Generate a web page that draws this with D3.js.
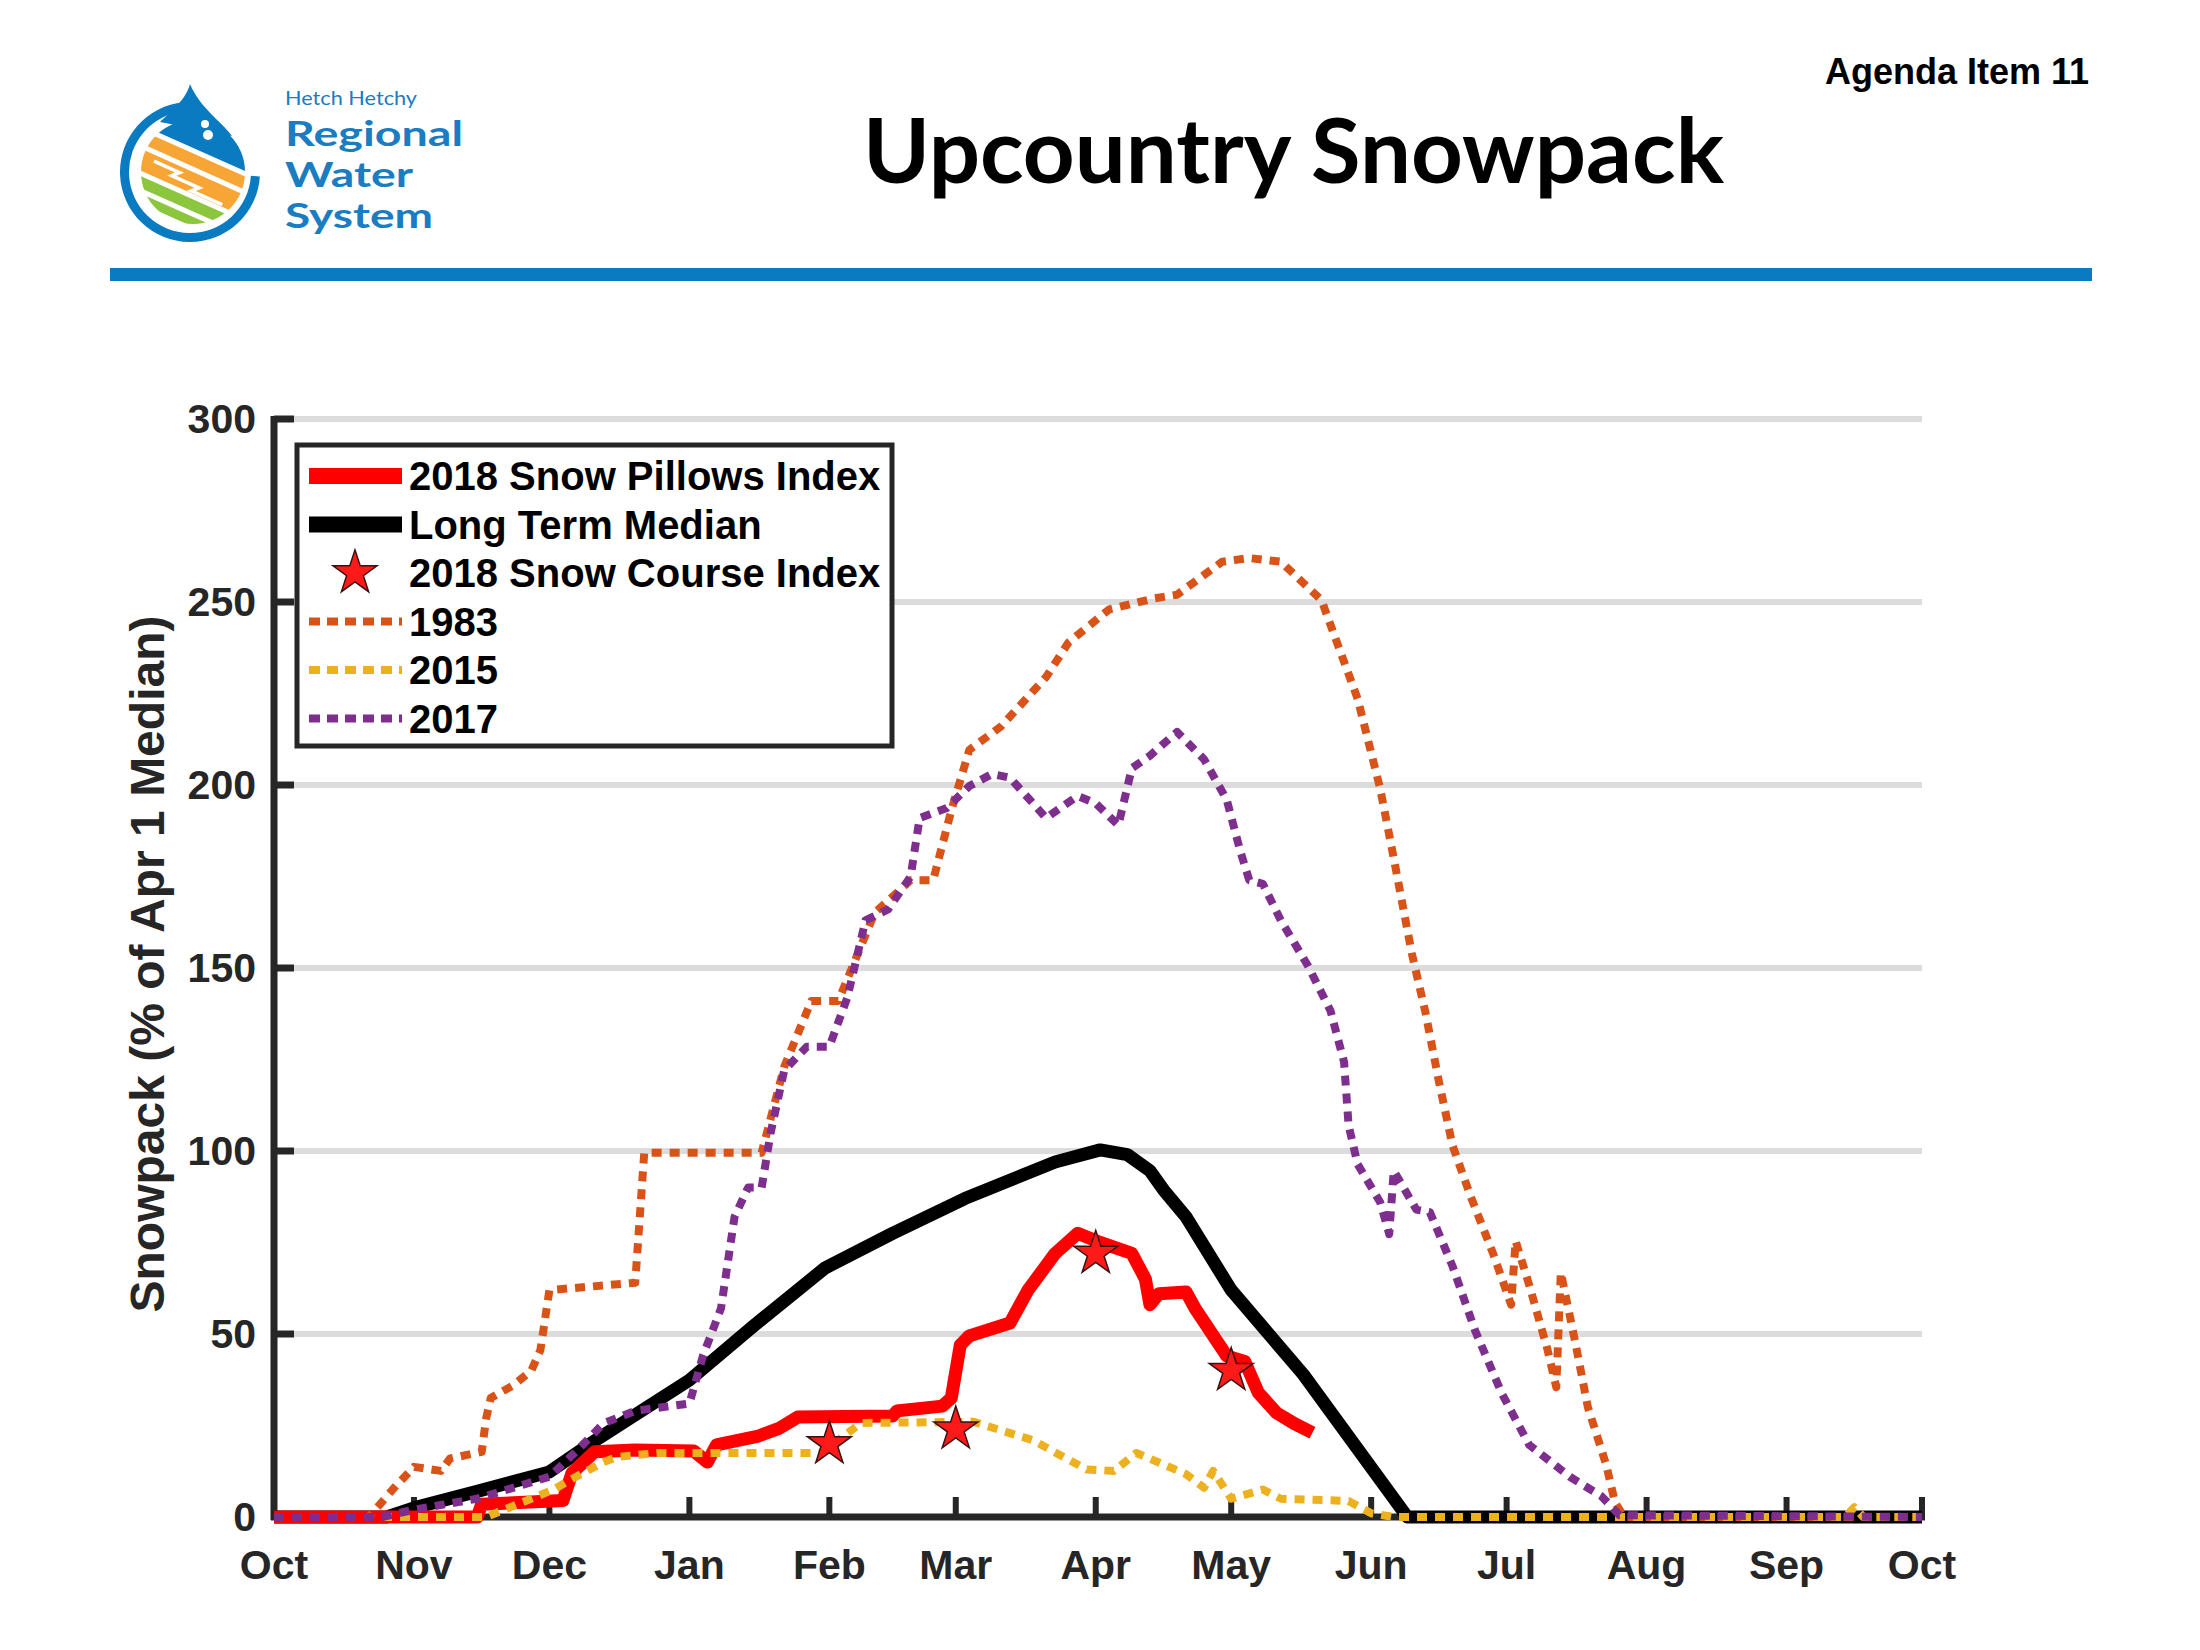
<html>
<head>
<style>
  body { margin: 0; background: #fff; }
  svg { display: block; }
</style>
<script src="https://d3js.org/d3.v7.min.js"></script>
</head>
<body>
<svg id="chart"></svg>
<script type="text/javascript">

// x axis month ticks (water year Oct 2017 - Oct 2018)
let monthTicks = ["2017-10-01","2017-11-01","2017-12-01","2018-01-01","2018-02-01","2018-03-01",
                  "2018-04-01","2018-05-01","2018-06-01","2018-07-01","2018-08-01","2018-09-01","2018-10-01"]
let monthLabels = ["Oct","Nov","Dec","Jan","Feb","Mar","Apr","May","Jun","Jul","Aug","Sep","Oct"]
let yTicks = [0, 50, 100, 150, 200, 250, 300]

// 2018 snow pillows index (red)
let pillows2018 = [
  ["2017-10-01",0],["2017-11-15",0],["2017-11-16",3.5],["2017-12-04",4.5],["2017-12-06",12],
  ["2017-12-11",17.8],["2017-12-20",18.3],["2018-01-02",18],["2018-01-05",15],["2018-01-07",19.7],
  ["2018-01-16",22],["2018-01-21",24.3],["2018-01-25",27.3],["2018-02-15",27.6],["2018-02-16",29],
  ["2018-02-26",30.3],["2018-02-28",32.5],["2018-03-02",47],["2018-03-04",49.5],["2018-03-13",53],
  ["2018-03-17",62],["2018-03-23",72],["2018-03-28",77.5],["2018-04-02",75],["2018-04-09",72],
  ["2018-04-12",65],["2018-04-13",58],["2018-04-15",61],["2018-04-21",61.5],["2018-04-23",57],
  ["2018-04-30",44],["2018-05-04",42.5],["2018-05-07",34],["2018-05-11",28.5],["2018-05-15",25.5],
  ["2018-05-19",23]
]

// long term median (black)
let median = [
  ["2017-10-01",0],["2017-10-26",0],["2017-11-01",2.5],["2017-11-15",7],["2017-12-01",12.3],
  ["2017-12-12",21.6],["2018-01-01",37.4],["2018-01-15",52],["2018-01-31",68],["2018-02-15",77.5],
  ["2018-03-03",87],["2018-03-23",97],["2018-04-02",100.3],["2018-04-08",99],["2018-04-13",94.6],
  ["2018-04-16",89.4],["2018-04-21",82],["2018-05-01",62],["2018-05-17",38.9],["2018-06-09",0],
  ["2018-10-01",0]
]

// 2018 snow course index (stars)
let snowCourse = [["2018-02-01",20],["2018-03-01",24],["2018-04-01",72],["2018-05-01",40]]

let wy1983 = [
  ["2017-10-01",0],["2017-10-22",0],["2017-10-28",8.5],["2017-11-01",13.7],["2017-11-07",12.6],
  ["2017-11-09",16],["2017-11-16",17.8],["2017-11-17",27],["2017-11-18",32.5],["2017-11-23",36],
  ["2017-11-27",40],["2017-11-29",45.6],["2017-12-01",62],["2017-12-20",64],["2017-12-22",99.5],
  ["2018-01-17",99.5],["2018-01-22",123],["2018-01-28",141],["2018-02-03",141],["2018-02-06",150],
  ["2018-02-11",165],["2018-02-19",174],["2018-02-24",174],["2018-02-28",193],["2018-03-04",209.6],
  ["2018-03-11",216],["2018-03-21",229.5],["2018-03-26",239],["2018-04-04",248],["2018-04-14",251],
  ["2018-04-19",252],["2018-04-29",261],["2018-05-05",262],["2018-05-12",261],["2018-05-21",250.5],
  ["2018-05-25",237],["2018-05-29",223.6],["2018-06-03",199],["2018-06-06",180],["2018-06-10",154],
  ["2018-06-13",138],["2018-06-16",119],["2018-06-19",101.6],["2018-06-23",87.7],["2018-06-28",72],
  ["2018-07-02",58],["2018-07-03",75.4],["2018-07-06",63.4],["2018-07-10",46],["2018-07-12",35.5],
  ["2018-07-13",66.8],["2018-07-16",49],["2018-07-19",30],["2018-07-23",14.5],["2018-07-25",4],
  ["2018-07-27",0],["2018-10-01",0]
]

let wy2015 = [
  ["2017-10-01",0],["2017-11-17",0],["2017-11-21",2],["2017-11-28",5.5],["2017-12-02",7.6],
  ["2017-12-06",10.4],["2017-12-13",15],["2017-12-16",16.4],["2017-12-25",17.5],["2018-01-30",17.5],
  ["2018-02-03",21],["2018-02-08",25.7],["2018-03-05",26],["2018-03-18",21],["2018-03-30",13],
  ["2018-04-05",12.6],["2018-04-10",17.5],["2018-04-21",11.7],["2018-04-25",8],["2018-04-27",12.6],
  ["2018-05-01",5],["2018-05-08",7.5],["2018-05-12",5],["2018-05-27",4.4],["2018-06-01",1],
  ["2018-06-06",0],["2018-09-14",0],["2018-09-16",2.7],["2018-09-18",0],["2018-10-01",0]
]

let wy2017 = [
  ["2017-10-01",0],["2017-10-25",0],["2017-11-01",2],["2017-11-15",5],["2017-12-01",11],
  ["2017-12-07",18],["2017-12-13",25.6],["2017-12-20",29],["2018-01-01",31],["2018-01-04",44],
  ["2018-01-08",57],["2018-01-11",82],["2018-01-14",90],["2018-01-17",90],["2018-01-19",105],
  ["2018-01-22",122],["2018-01-27",128.5],["2018-02-01",128.5],["2018-02-05",142],["2018-02-09",163],
  ["2018-02-14",166],["2018-02-19",175],["2018-02-21",191],["2018-02-27",193.7],["2018-03-04",199.7],
  ["2018-03-09",203],["2018-03-13",202],["2018-03-21",191],["2018-03-28",197],["2018-04-01",195],
  ["2018-04-06",189],["2018-04-09",204.6],["2018-04-13",208],["2018-04-19",214.5],["2018-04-25",207],
  ["2018-04-30",196],["2018-05-03",182],["2018-05-05",174],["2018-05-08",173],["2018-05-12",163],
  ["2018-05-18",150.6],["2018-05-23",138.3],["2018-05-26",124.3],["2018-05-27",107],["2018-05-29",96.4],
  ["2018-06-03",86],["2018-06-05",77.3],["2018-06-06",94.6],["2018-06-11",84],["2018-06-14",83.3],
  ["2018-06-19",68.6],["2018-06-24",51],["2018-06-30",33.6],["2018-07-06",19.7],["2018-07-15",11],
  ["2018-07-22",5.7],["2018-07-26",0.5],["2018-10-01",0]
]

let legendLabels = ["2018 Snow Pillows Index","Long Term Median","2018 Snow Course Index","1983","2015","2017"]

//-----------------------------------
const W = 2200, H = 1650
const ink = "#262626"
const blue = "#0a7bc1"
const parse = d3.timeParse("%Y-%m-%d")

let svg = d3.select("#chart").attr("width", W).attr("height", H)
svg.append("rect").attr("width", W).attr("height", H).attr("fill", "#fff")

function drawHeader() {
  svg.append("text").text("Agenda Item 11")
    .attr("x", 2089).attr("y", 84).attr("text-anchor", "end")
    .attr("font-family", "Liberation Sans, Arial, sans-serif").attr("font-weight", "bold")
    .attr("font-size", 36).attr("fill", "#000")

  svg.append("text").text("Upcountry Snowpack")
    .attr("x", 863).attr("y", 183)
    .attr("textLength", 861).attr("lengthAdjust", "spacingAndGlyphs")
    .attr("font-family", "Lato, 'Open Sans', sans-serif").attr("font-weight", "bold")
    .attr("font-size", 90).attr("fill", "#000")

  svg.append("rect").attr("x", 110).attr("y", 268).attr("width", 1982).attr("height", 13).attr("fill", blue)

  // logo
  let logo = svg.append("g")
  let cx = 190, cy = 172
  logo.append("path")
    .attr("transform", "translate(" + cx + "," + cy + ")")
    .attr("d", d3.arc().innerRadius(61).outerRadius(70).startAngle(Math.PI * 0.52).endAngle(Math.PI * 1.97)())
    .attr("fill", blue)
  // drop tip
  logo.append("path")
    .attr("d", "M190,84 C186,100 170,112 160,122 L232,136 C222,122 200,108 190,84 Z")
    .attr("fill", blue)

  let defs = svg.append("defs")
  defs.append("clipPath").attr("id", "globe")
    .append("circle").attr("cx", cx + 3).attr("cy", cy).attr("r", 52)

  let g = logo.append("g").attr("clip-path", "url(#globe)")
  let s = g.append("g").attr("transform", "translate(" + (cx + 3) + "," + cy + ") rotate(24)")
  s.append("rect").attr("x", -70).attr("y", -70).attr("width", 140).attr("height", 48).attr("fill", blue)
  s.append("rect").attr("x", -70).attr("y", -17).attr("width", 140).attr("height", 12).attr("fill", "#f7a535")
  s.append("rect").attr("x", -70).attr("y", 0).attr("width", 140).attr("height", 20).attr("fill", "#f7a535")
  s.append("path").attr("d", "M-40,6 L-12,6 L-18,12 L12,12 L6,18 L40,18")
    .attr("fill", "none").attr("stroke", "#fff").attr("stroke-width", 3.5)
  s.append("rect").attr("x", -70).attr("y", 25).attr("width", 140).attr("height", 11).attr("fill", "#8cc63f")
  s.append("rect").attr("x", -70).attr("y", 41).attr("width", 140).attr("height", 9).attr("fill", "#8cc63f")
  logo.append("circle").attr("cx", 205).attr("cy", 124).attr("r", 4).attr("fill", "#fff")
  logo.append("circle").attr("cx", 208).attr("cy", 135).attr("r", 5).attr("fill", "#fff")

  let lt = [["Hetch Hetchy", 105, 19, 400, 132], ["Regional", 146, 34, 700, 178],
            ["Water", 187, 34, 700, 128], ["System", 228, 34, 700, 148]]
  lt.forEach(function(d) {
    svg.append("text").text(d[0]).attr("x", 285).attr("y", d[1])
      .attr("font-family", "Lato, sans-serif").attr("font-size", d[2])
      .attr("font-weight", d[3]).attr("textLength", d[4]).attr("lengthAdjust", "spacingAndGlyphs")
      .attr("fill", "#1a7cc1")
  })
}

function drawChart() {
  let x = d3.scaleTime().domain([parse("2017-10-01"), parse("2018-10-01")]).range([274, 1922])
  let y = d3.scaleLinear().domain([0, 300]).range([1517, 419])
  let font = "Liberation Sans, Arial, Helvetica, sans-serif"

  // grid
  svg.append("g").selectAll("line").data(yTicks.filter(d => d > 0)).enter().append("line")
    .attr("x1", x.range()[0]).attr("x2", x.range()[1])
    .attr("y1", d => y(d)).attr("y2", d => y(d))
    .attr("stroke", "#dcdcdc").attr("stroke-width", 6)

  // axes
  let ax = svg.append("g")
  ax.append("line").attr("x1", 274).attr("x2", 274).attr("y1", y(300) - 3).attr("y2", y(0) + 3)
    .attr("stroke", ink).attr("stroke-width", 7)
  ax.append("line").attr("x1", 271).attr("x2", x.range()[1] + 3).attr("y1", y(0)).attr("y2", y(0))
    .attr("stroke", ink).attr("stroke-width", 7)
  ax.selectAll(".yt").data(yTicks).enter().append("line")
    .attr("x1", 274).attr("x2", 294).attr("y1", d => y(d)).attr("y2", d => y(d))
    .attr("stroke", ink).attr("stroke-width", 7)
  ax.selectAll(".xt").data(monthTicks).enter().append("line")
    .attr("x1", d => x(parse(d))).attr("x2", d => x(parse(d)))
    .attr("y1", y(0)).attr("y2", y(0) - 20)
    .attr("stroke", ink).attr("stroke-width", 6)
  ax.selectAll(".yl").data(yTicks).enter().append("text").text(d => d)
    .attr("x", 256).attr("y", d => y(d)).attr("dy", "0.34em").attr("text-anchor", "end")
    .attr("font-family", font).attr("font-weight", "bold").attr("font-size", 41).attr("fill", ink)
  ax.selectAll(".xl").data(monthTicks).enter().append("text").text((d, i) => monthLabels[i])
    .attr("x", d => x(parse(d))).attr("y", 1579).attr("text-anchor", "middle")
    .attr("font-family", font).attr("font-weight", "bold").attr("font-size", 41).attr("fill", ink)
  ax.append("text").text("Snowpack (% of Apr 1 Median)")
    .attr("transform", "translate(164,964) rotate(-90)").attr("text-anchor", "middle")
    .attr("font-family", font).attr("font-weight", "bold").attr("font-size", 48).attr("fill", ink)

  let line = d3.line().x(d => x(parse(d[0]))).y(d => y(d[1]))

  let series = [
    {data: pillows2018, color: "#ff0000", width: 13, dash: null},
    {data: median, color: "#000000", width: 13, dash: null},
    {data: wy1983, color: "#d95319", width: 8, dash: "10,8"},
    {data: wy2015, color: "#edb120", width: 8, dash: "10,8"},
    {data: wy2017, color: "#7e2f8e", width: 8, dash: "10,8"}
  ]
  // median below pillows
  let order = [series[1], series[0], series[2], series[3], series[4]]
  svg.append("g").selectAll("path").data(order).enter().append("path")
    .attr("d", d => line(d.data))
    .attr("fill", "none")
    .attr("stroke", d => d.color).attr("stroke-width", d => d.width)
    .attr("stroke-dasharray", d => d.dash)
    .attr("stroke-linejoin", "round")

  let star = d3.symbol().type(d3.symbolStar).size(600)
  svg.append("g").selectAll("path").data(snowCourse).enter().append("path")
    .attr("d", star)
    .attr("transform", d => "translate(" + x(parse(d[0])) + "," + y(d[1]) + ")")
    .attr("fill", "#ff1a1a").attr("stroke", "#3a1010").attr("stroke-width", 1.5)

  // legend
  let lg = svg.append("g")
  lg.append("rect").attr("x", 297).attr("y", 445).attr("width", 595).attr("height", 301)
    .attr("fill", "#fff").attr("stroke", ink).attr("stroke-width", 5)
  let styles = [series[0], series[1], null, series[2], series[3], series[4]]
  legendLabels.forEach(function(lab, i) {
    let cy = 476 + i * 48.5
    let st = styles[i]
    if (st) {
      lg.append("line").attr("x1", 309).attr("x2", 402).attr("y1", cy).attr("y2", cy)
        .attr("stroke", st.color).attr("stroke-width", st.dash ? 8 : 16)
        .attr("stroke-dasharray", st.dash ? "11,7" : null)
    } else {
      lg.append("path").attr("d", star).attr("transform", "translate(355," + cy + ")")
        .attr("fill", "#ff1a1a").attr("stroke", "#3a1010").attr("stroke-width", 1.5)
    }
    lg.append("text").text(lab).attr("x", 409).attr("y", cy).attr("dy", "0.36em")
      .attr("font-family", font).attr("font-weight", "bold").attr("font-size", 40).attr("fill", "#000")
  })
}

drawHeader()
drawChart()
</script>
</body>
</html>
